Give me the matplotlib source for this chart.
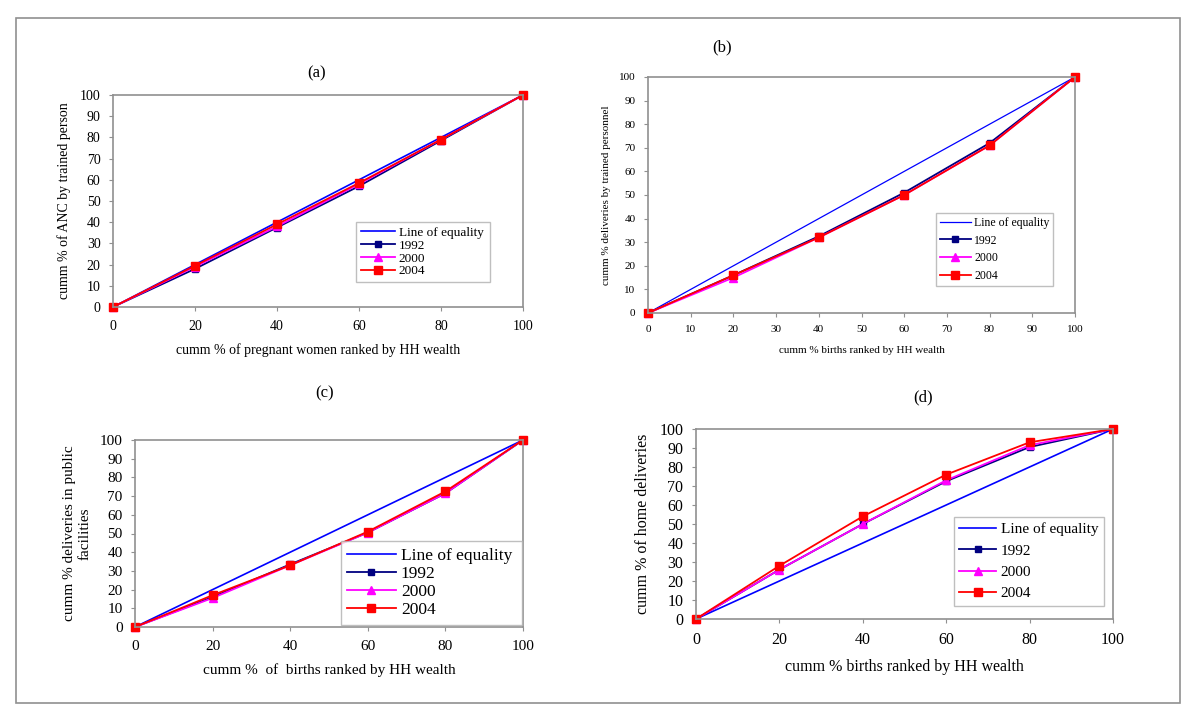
import matplotlib
matplotlib.use("Agg")
import matplotlib.pyplot as plt
from matplotlib.patches import Rectangle

plt.rcParams['font.family'] = ['Liberation Serif', 'DejaVu Serif']

x_vals = [0, 20, 40, 60, 80, 100]
equality = [0, 20, 40, 60, 80, 100]

# (a) ANC by trained person
anc_1992 = [0, 18, 37.5, 57, 78.5, 100]
anc_2000 = [0, 19, 38, 58, 79, 100]
anc_2004 = [0, 19.5, 39, 58.5, 79, 100]

# (b) deliveries by trained personnel
trained_1992 = [0, 16, 32.5, 51, 72, 100]
trained_2000 = [0, 15, 32, 50, 71, 100]
trained_2004 = [0, 16, 32, 50, 71, 100]

# (c) deliveries in public facilities
public_1992 = [0, 16, 33.5, 50.5, 71.5, 100]
public_2000 = [0, 15.5, 33, 50.5, 71.5, 100]
public_2004 = [0, 17, 33, 51, 72.5, 100]

# (d) home deliveries
home_1992 = [0, 26, 50, 72.5, 90.5, 100]
home_2000 = [0, 26, 50, 73, 91.5, 100]
home_2004 = [0, 28, 54, 76, 93, 100]

W, H = 1200, 721
fig = plt.figure(figsize=(W / 100, H / 100), dpi=100)

# border around the whole figure
fig.patches.append(Rectangle((16 / W, 1 - 703 / H), (1180 - 16) / W, (703 - 18) / H,
                             transform=fig.transFigure, fill=False,
                             edgecolor='#909090', linewidth=1.2))


def box(x0, y0, x1, y1):
    return [x0 / W, 1 - y1 / H, (x1 - x0) / W, (y1 - y0) / H]


def panel(rect, series, title, title_xy, xlabel, ylabel, xticks, fs, legrect, legfs,
          ls, lw_eq=1.2, hl=2.6):
    ax = fig.add_axes(box(*rect))
    ax.plot(x_vals, equality, color='#0000ff', lw=lw_eq, label='Line of equality')
    ax.plot(x_vals, series[0], color='#000080', lw=1.3, marker='s', ms=5, label='1992')
    ax.plot(x_vals, series[1], color='#ff00ff', lw=1.3, marker='^', ms=6, label='2000')
    ax.plot(x_vals, series[2], color='#ff0000', lw=1.3, marker='s', ms=6, label='2004')
    ax.set_xlim(0, 100)
    ax.set_ylim(0, 100)
    ax.set_xticks(xticks)
    ax.set_yticks(range(0, 101, 10))
    ax.tick_params(labelsize=fs, length=3, color='#909090', pad=6)
    for s in ax.spines.values():
        s.set_color('#909090')
        s.set_linewidth(1.2)
    ax.set_xlabel(xlabel, fontsize=fs, labelpad=8)
    ax.set_ylabel(ylabel, fontsize=fs, labelpad=6)
    for ln in ax.lines:
        ln.set_clip_on(False)
    leg = ax.legend(loc='center left', fontsize=legfs,
                    bbox_to_anchor=box(*legrect),
                    bbox_transform=fig.transFigure, mode='expand',
                    frameon=True, fancybox=False, borderpad=0.35,
                    handlelength=hl, handletextpad=0.3,
                    labelspacing=ls, borderaxespad=0)
    leg.get_frame().set_edgecolor('#b0b0b0')
    leg.get_frame().set_linewidth(1.0)
    fig.text(title_xy[0] / W, 1 - title_xy[1] / H, title, fontsize=12,
             ha='center', va='center')
    return ax


panel((113, 95, 523, 307), [anc_1992, anc_2000, anc_2004], '(a)', (317, 73),
      'cumm % of pregnant women ranked by HH wealth',
      'cumm % of ANC by trained person',
      range(0, 101, 20), 10, (356, 222, 490, 282), 9.5, 0.05)

panel((648, 77, 1075, 313), [trained_1992, trained_2000, trained_2004], '(b)', (722, 47),
      'cumm % births ranked by HH wealth',
      'cumm % deliveries by trained personnel',
      range(0, 101, 10), 8, (936, 214, 1053, 285), 8.5, 0.5, lw_eq=0.9)

panel((135, 440, 523, 627), [public_1992, public_2000, public_2004], '(c)', (325, 393),
      'cumm %  of  births ranked by HH wealth',
      'cumm % deliveries in public\nfacilities',
      range(0, 101, 20), 11, (341, 542, 522, 624), 12.5, 0.12, hl=2.8)

panel((696, 429, 1113, 619), [home_1992, home_2000, home_2004], '(d)', (923, 397),
      'cumm % births ranked by HH wealth',
      'cumm % of home deliveries',
      range(0, 101, 20), 11.5, (954, 516, 1104, 607), 11, 0.5, hl=2.4)

fig.savefig('out.png', dpi=100)
